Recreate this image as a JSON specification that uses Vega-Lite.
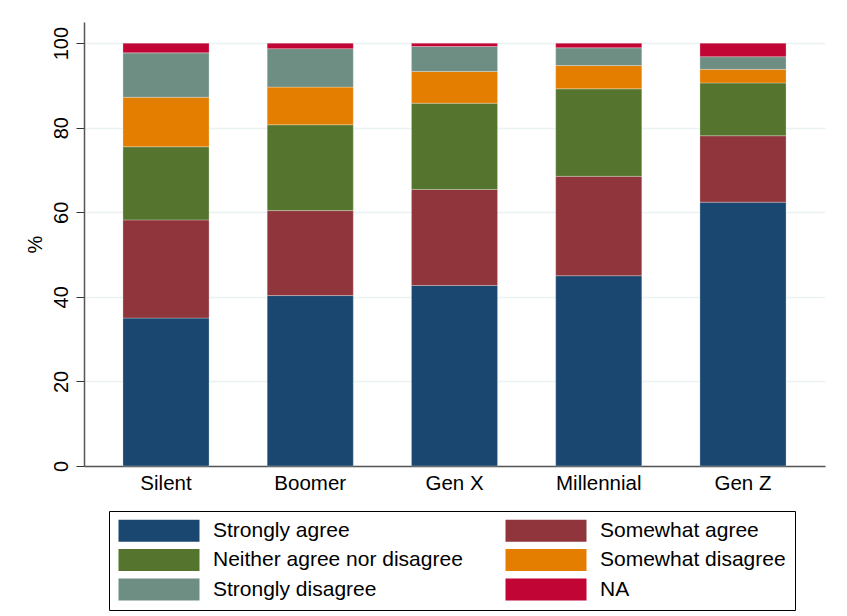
{
  "$schema": "https://vega.github.io/schema/vega-lite/v6.json",
  "width": 741,
  "height": 444,
  "autosize": {"type": "none"},
  "padding": {"left": 84, "top": 22, "right": 22, "bottom": 150},
  "background": "white",
  "config": {
    "view": {"stroke": null},
    "font": "Liberation Sans"
  },
  "data": {
    "values": [
      {"gen": "Silent", "resp": "Strongly agree", "k": 1, "pct": 35.0},
      {"gen": "Silent", "resp": "Somewhat agree", "k": 2, "pct": 23.2},
      {"gen": "Silent", "resp": "Neither agree nor disagree", "k": 3, "pct": 17.3},
      {"gen": "Silent", "resp": "Somewhat disagree", "k": 4, "pct": 11.7},
      {"gen": "Silent", "resp": "Strongly disagree", "k": 5, "pct": 10.5},
      {"gen": "Silent", "resp": "NA", "k": 6, "pct": 2.3},
      {"gen": "Boomer", "resp": "Strongly agree", "k": 1, "pct": 40.3},
      {"gen": "Boomer", "resp": "Somewhat agree", "k": 2, "pct": 20.1},
      {"gen": "Boomer", "resp": "Neither agree nor disagree", "k": 3, "pct": 20.3},
      {"gen": "Boomer", "resp": "Somewhat disagree", "k": 4, "pct": 8.9},
      {"gen": "Boomer", "resp": "Strongly disagree", "k": 5, "pct": 9.1},
      {"gen": "Boomer", "resp": "NA", "k": 6, "pct": 1.3},
      {"gen": "Gen X", "resp": "Strongly agree", "k": 1, "pct": 42.7},
      {"gen": "Gen X", "resp": "Somewhat agree", "k": 2, "pct": 22.7},
      {"gen": "Gen X", "resp": "Neither agree nor disagree", "k": 3, "pct": 20.4},
      {"gen": "Gen X", "resp": "Somewhat disagree", "k": 4, "pct": 7.5},
      {"gen": "Gen X", "resp": "Strongly disagree", "k": 5, "pct": 5.9},
      {"gen": "Gen X", "resp": "NA", "k": 6, "pct": 0.8},
      {"gen": "Millennial", "resp": "Strongly agree", "k": 1, "pct": 45.0},
      {"gen": "Millennial", "resp": "Somewhat agree", "k": 2, "pct": 23.5},
      {"gen": "Millennial", "resp": "Neither agree nor disagree", "k": 3, "pct": 20.7},
      {"gen": "Millennial", "resp": "Somewhat disagree", "k": 4, "pct": 5.5},
      {"gen": "Millennial", "resp": "Strongly disagree", "k": 5, "pct": 4.2},
      {"gen": "Millennial", "resp": "NA", "k": 6, "pct": 1.1},
      {"gen": "Gen Z", "resp": "Strongly agree", "k": 1, "pct": 62.4},
      {"gen": "Gen Z", "resp": "Somewhat agree", "k": 2, "pct": 15.7},
      {"gen": "Gen Z", "resp": "Neither agree nor disagree", "k": 3, "pct": 12.5},
      {"gen": "Gen Z", "resp": "Somewhat disagree", "k": 4, "pct": 3.2},
      {"gen": "Gen Z", "resp": "Strongly disagree", "k": 5, "pct": 3.0},
      {"gen": "Gen Z", "resp": "NA", "k": 6, "pct": 3.2}
    ]
  },
  "mark": {"type": "bar", "stroke": "#ffffff", "strokeOpacity": 0.35, "strokeWidth": 0.8},
  "encoding": {
    "x": {
      "field": "gen",
      "type": "nominal",
      "sort": ["Silent", "Boomer", "Gen X", "Millennial", "Gen Z"],
      "scale": {"paddingInner": 0.403, "paddingOuter": 0.27},
      "axis": {
        "title": null,
        "labelAngle": 0,
        "labelFontSize": 20.5,
        "labelColor": "#000000",
        "labelPadding": 7,
        "ticks": false,
        "domainColor": "#555555",
        "domainWidth": 1.5
      }
    },
    "y": {
      "field": "pct",
      "type": "quantitative",
      "stack": "zero",
      "scale": {"domain": [0, 105], "nice": false},
      "axis": {
        "title": "%",
        "titleFontSize": 20,
        "titleFontWeight": "normal",
        "titleColor": "#000000",
        "titlePadding": 6,
        "values": [0, 20, 40, 60, 80, 100],
        "labelAngle": 270,
        "labelAlign": "center",
        "labelBaseline": "alphabetic",
        "labelFontSize": 20,
        "labelColor": "#000000",
        "labelPadding": 9,
        "tickSize": 8,
        "tickColor": "#333333",
        "tickWidth": 1,
        "domainColor": "#555555",
        "domainWidth": 1.5,
        "grid": true,
        "gridColor": "#eaf2f3",
        "gridWidth": 1.5
      }
    },
    "color": {
      "field": "resp",
      "type": "nominal",
      "sort": ["Strongly agree", "Neither agree nor disagree", "Strongly disagree", "Somewhat agree", "Somewhat disagree", "NA"],
      "scale": {
        "domain": ["Strongly agree", "Neither agree nor disagree", "Strongly disagree", "Somewhat agree", "Somewhat disagree", "NA"],
        "range": ["#1a476f", "#55752f", "#6e8e84", "#90353b", "#e37e00", "#c10534"]
      },
      "legend": {
        "title": null,
        "orient": "none",
        "legendX": 25,
        "legendY": 489,
        "columns": 2,
        "columnPadding": 42,
        "rowPadding": 6.5,
        "padding": 9,
        "strokeColor": "#000000",
        "fillColor": "#ffffff",
        "symbolType": "M-1,-1.1H7.1V1.1H-1Z",
        "symbolSize": 400,
        "symbolStrokeWidth": 0,
        "symbolOpacity": 1,
        "labelFontSize": 21,
        "labelColor": "#000000",
        "labelOffset": 74,
        "labelLimit": 400
      }
    },
    "order": {"field": "k", "type": "quantitative", "sort": "ascending"}
  }
}
